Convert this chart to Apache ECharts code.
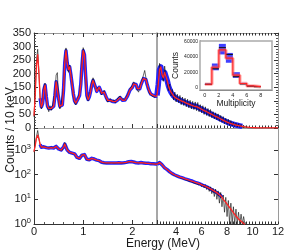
<!DOCTYPE html>
<html><head><meta charset="utf-8">
<script src="https://cdn.jsdelivr.net/npm/echarts@6/dist/echarts.min.js"></script>
<style>html,body{margin:0;padding:0;background:#fff}#c{width:287px;height:250px}</style>
</head><body><div id="c"></div>
<script>
// ---------- DATA ----------
const energyLow = [
0,0.025,0.05,0.075,0.1,0.125,0.15,0.175,0.2,0.225,0.25,0.275,0.3,0.325,0.35,0.375,0.4,0.425,0.45,0.475,
0.5,0.525,0.55,0.575,0.6,0.625,0.65,0.675,0.7,0.725,0.75,0.775,0.8,0.825,0.85,0.875,0.9,0.925,0.95,0.975,
1,1.025,1.05,1.075,1.1,1.125,1.15,1.175,1.2,1.225,1.25,1.275,1.3,1.325,1.35,1.375,1.4,1.425,1.45,1.475,
1.5,1.525,1.55,1.575,1.6,1.625,1.65,1.675,1.7,1.725,1.75,1.775,1.8,1.825,1.85,1.875,1.9,1.925,1.95,1.975,
2,2.025,2.05,2.075,2.1,2.125,2.15,2.175,2.2,2.225,2.25,2.275,2.3,2.325,2.35,2.375,2.4,2.425,2.45,2.475,
2.5];
const energyHigh = [
2.5,2.6,2.7,2.8,2.9,
3,3.1,3.2,3.3,3.4,3.5,3.6,3.7,3.8,3.9,
4,4.1,4.2,4.3,4.4,4.5,4.6,4.7,4.8,4.9,
5,5.1,5.2,5.3,5.4,5.5,5.6,5.7,5.8,5.9,
6,6.1,6.2,6.3,6.4,6.5,6.6,6.7,6.8,6.9,
7,7.1,7.2,7.3,7.4,7.5,7.6,7.7,7.8,7.9,
8,8.1,8.2,8.3,8.4,8.5,8.6,8.7,8.8,8.9,
9,9.1,9.2,9.3,9.4,9.5,9.6,9.7,9.8,9.9,
10,10.1,10.2,10.3,10.4,10.5,10.6,10.7,10.8,10.9,
11,11.1,11.2,11.3,11.4,11.5,11.6,11.7,11.8,11.9,
12];

// upper panel (linear) - model (red) and data (black)
const topModelLow = [
45,120,230,270,200,110,78,90,140,158,115,80,72,75,72,76,80,120,170,175,
110,80,78,85,140,240,285,240,215,225,195,160,125,100,92,95,110,120,160,230,
285,270,190,120,105,115,135,160,175,170,150,135,140,150,140,128,125,132,125,110,
102,98,102,100,98,100,97,98,103,108,112,108,102,100,103,110,118,125,140,145,
150,162,168,160,145,138,145,160,172,182,185,178,160,145,133,125,122,120,118,117,
118];
const topDataLow = [
40,135,250,290,210,105,70,95,150,165,110,75,60,82,65,80,78,130,195,204,
100,70,85,90,150,255,295,250,205,232,200,165,118,95,85,102,105,128,170,245,
296,275,185,112,100,122,140,168,185,172,145,140,148,155,135,122,130,138,120,105,
95,92,108,96,90,104,92,101,110,112,118,104,98,108,100,115,122,132,145,150,
158,170,176,158,140,132,150,166,180,195,212,185,158,140,125,128,118,125,112,120,
125];
const topModelHigh = [
120,160,215,225,195,
185,205,200,175,155,142,132,125,118,114,
110,108,105,103,100,98,96,94,92,90,
88,86,84,83,81,80,79,77,74,71,
69,67,64,62,60,57,55,52,50,47,
45,43,41,38,36,33,31,29,26,24,
22,20,18,16,15,13,12,11,10,9,
8,7,6,5,4,3.5,3,2.5,2,1.7,
1.4,1.2,1.0,0.8,0.7,0.6,0.5,0.5,0.4,0.4,
0.3,0.3,0.3,0.2,0.2,0.2,0.2,0.1,0.1,0.1,
0.1];
const topDataHigh = [
125,172,238,212,212,
172,228,188,192,138,162,118,142,103,132,
96,124,93,120,86,114,83,110,78,106,
74,102,70,98,68,96,64,94,60,86,
56,82,50,78,46,72,42,68,38,60,
34,56,30,52,25,46,21,42,16,36,
13,32,9,27,7,22,5,19,3,16,
2,13,1,10,0,8,0,6,0,5,
0,3,0,2,0,1,0,1,0,0,
1,0,0,0,0,0,0,0,0,0,
0];

// lower panel (log) - model (red) and data (black)
const botModelLow = [
850,1500,3000,4000,2800,1700,1300,1250,1350,1400,1250,1150,1200,1300,1250,1150,1200,1350,1400,1250,
1100,1050,1000,1050,1300,1750,1500,1000,850,800,780,750,740,700,600,500,450,460,520,620,
680,650,520,420,390,400,430,460,450,430,400,390,380,370,340,320,310,305,300,300,
300,300,298,300,302,300,298,300,305,305,300,298,300,305,310,315,325,335,340,340,
335,325,315,305,300,300,305,310,305,300,295,290,290,288,285,280,278,275,270,268,
265];
const botDataLow = [
820,1700,3500,6200,3000,1600,1250,1300,1400,1350,1300,1100,1250,1250,1300,1100,1250,1300,1450,1200,
1150,1000,1050,1000,1350,2000,1450,1050,820,830,750,780,700,720,580,520,440,480,500,650,
700,630,540,400,400,390,440,450,470,420,410,380,390,360,350,310,320,295,310,290,
305,295,300,305,295,290,305,295,310,300,305,290,305,300,315,305,330,330,345,335,
345,320,330,310,300,305,295,310,320,300,305,290,295,285,290,280,285,275,280,265,
270];
const botModelHigh = [
265,280,310,290,250,
215,190,175,160,145,130,118,110,103,97,
92,88,84,80,77,74,71,68,65,63,
60,58,56,54,51,49,47,45,43,41,
39,37,35,34,32,30,28,26.5,25,23,
21,20,18.5,17,15.5,14,12,10,8.5,7.5,
6.5,5.5,4.6,4.0,3.4,2.9,2.5,2.1,1.9,1.6,
1.45,1.3,1.15,1.05,0.95,null,null,null,null,null,
null,null,null,null,null,null,null,null,null,null,
null,null,null,null,null,null,null,null,null,null,
null];
const botDataHigh = [
270,290,320,285,255,
210,195,170,165,140,135,112,115,98,102,
88,93,80,85,72,79,66,73,60,68,
55,63,51,60,46,54,42,50,38,46,
33,42,29,39,25,35,21,32,17,28,
13,26,10,22,7,19,5,15,3,12,
2,9,1,7,1,5,1,4,1,3,
1,2.5,1,2,1,1.2,null,null,null,null,
null,null,null,null,null,null,null,null,null,null,
null,null,null,null,null,null,null,null,null,null,
null];

// inset: multiplicity distribution
const multBins = [0,1,2,3,4,5,6,7];
const multModel = [4000,26500,49500,38500,16000,5000,1800,800];
const multData = [4000,24500,52500,43500,14000,4500,1500,700];
const multBandLow = [3000,22500,43500,32500,12500,4000,1200,400];
const multBandHigh = [5000,31500,57500,45500,20000,6000,2400,1200];

// tick labels
const xTicksLow = [0,1,2];
const xTicksHigh = [4,6,8,10,12];
const multXTicks = [0,2,4,6,8];
const multYTicks = [0,20000,40000,60000];

// ---------- CHART ----------
const FONT = 'Liberation Sans';
const TXT = '#1a1a1a';
const pairs = (xs, ys) => xs.map((x, i) => [x, ys[i]]);
const band = (xs, ys, lo, hi) => xs.map((x, i) => [x, (x >= lo && x <= hi) ? ys[i] : null]);

const tick = (len) => ({show: true, inside: true, length: len, lineStyle: {color: '#333', width: 1}});
const minor = (n) => ({show: true, splitNumber: n, length: 2, lineStyle: {color: '#555', width: 1}});
const noLab = {show: false};
const noSplit = {show: false};
const gray = {show: true, onZero: false, lineStyle: {color: '#9a9a9a', width: 1}};
const dark = {show: true, onZero: false, lineStyle: {color: '#333', width: 1}};

const logFmt = (v) => {
  const e = Math.round(Math.log10(v));
  if (Math.abs(Math.pow(10, e) - v) > 1e-6 * v) return '';
  return '{b|10}{s|' + e + '}';
};
const logRich = {
  b: {fontSize: 11, fontFamily: FONT, color: TXT},
  s: {fontSize: 7.5, fontFamily: FONT, color: TXT, padding: [0, 0, 6, 0]}
};

const line = (xi, yi, data, color, width, z) => ({
  type: 'line', xAxisIndex: xi, yAxisIndex: yi, data, symbol: 'none', showSymbol: false,
  lineStyle: {color, width, join: 'round'}, z, silent: true, animation: false
});

const BLUE = '#2424ff', RED = '#ff2424', BLACK = 'rgba(15,15,15,0.8)';
const stepData = (ys) => multBins.map((b, i) => [b, ys[i]]).concat([[multBins.length, ys[ys.length - 1]]]);

const option = {
  backgroundColor: '#fff',
  animation: false,
  grid: [
    {left: 34, top: 33, width: 123, height: 95, outerBoundsMode: 'none'},
    {left: 157, top: 33, width: 121, height: 95, outerBoundsMode: 'none'},
    {left: 34, top: 128, width: 123, height: 96, outerBoundsMode: 'none'},
    {left: 157, top: 128, width: 121, height: 96, outerBoundsMode: 'none'},
    {left: 200, top: 41, width: 72, height: 49, outerBoundsMode: 'none', show: true,
     backgroundColor: '#fff', borderColor: '#aaa', borderWidth: 1.5, z: 5}
  ],
  xAxis: [
    {gridIndex: 0, type: 'value', min: 0, max: 2.5, interval: 1, position: 'bottom', axisLine: gray,
     axisTick: tick(4), minorTick: minor(5), axisLabel: noLab, splitLine: noSplit},
    {gridIndex: 1, type: 'value', min: 2.5, max: 12, interval: 0.25, position: 'bottom', axisLine: gray,
     axisTick: tick(2.5), axisLabel: noLab, splitLine: noSplit},
    {gridIndex: 2, type: 'value', min: 0, max: 2.5, interval: 1, position: 'bottom', axisLine: dark,
     axisTick: tick(4), minorTick: minor(5), splitLine: noSplit,
     axisLabel: {customValues: xTicksLow, fontSize: 11, fontFamily: FONT, color: TXT, margin: 2}},
    {gridIndex: 3, type: 'value', min: 2.5, max: 12, interval: 0.25, position: 'bottom', axisLine: dark,
     axisTick: tick(2.5), splitLine: noSplit,
     axisLabel: {customValues: xTicksHigh, fontSize: 11, fontFamily: FONT, color: TXT, margin: 2}},
    {gridIndex: 0, type: 'value', min: 0, max: 2.5, interval: 1, position: 'top', axisLine: gray,
     axisTick: tick(4), minorTick: minor(5), axisLabel: noLab, splitLine: noSplit},
    {gridIndex: 1, type: 'value', min: 2.5, max: 12, interval: 0.25, position: 'top', axisLine: gray,
     axisTick: tick(2.5), axisLabel: noLab, splitLine: noSplit},
    {gridIndex: 4, type: 'value', min: -0.7, max: 9.6, position: 'bottom', axisLine: dark,
     axisTick: {show: true, inside: true, length: 2.5, customValues: multXTicks, lineStyle: {color: '#333'}},
     splitLine: noSplit, name: 'Multiplicity', nameLocation: 'middle', nameGap: 8,
     nameTextStyle: {fontSize: 8.5, fontFamily: FONT, color: TXT},
     axisLabel: {customValues: multXTicks, fontSize: 5.5, fontFamily: FONT, color: TXT, margin: 2}}
  ],
  yAxis: [
    {gridIndex: 0, type: 'value', min: 0, max: 350, interval: 50, position: 'left', axisLine: dark,
     axisTick: tick(4), minorTick: minor(5), splitLine: noSplit,
     axisLabel: {fontSize: 11, fontFamily: FONT, color: TXT, margin: 3}},
    {gridIndex: 1, type: 'value', min: 0, max: 350, interval: 50, position: 'left',
     axisLine: {show: true, onZero: false, lineStyle: {color: '#8a8a8a', width: 1.5}},
     axisTick: {show: false}, axisLabel: noLab, splitLine: noSplit},
    {gridIndex: 1, type: 'value', min: 0, max: 350, interval: 50, position: 'right', axisLine: gray,
     axisTick: tick(4), minorTick: minor(5), axisLabel: noLab, splitLine: noSplit},
    {gridIndex: 2, type: 'log', logBase: 10, min: 1, max: 7800, position: 'left', axisLine: dark,
     axisTick: tick(4), splitLine: noSplit,
     axisLabel: {formatter: logFmt, rich: logRich, margin: 3, showMaxLabel: false}},
    {gridIndex: 3, type: 'log', logBase: 10, min: 1, max: 7800, position: 'left',
     axisLine: {show: true, onZero: false, lineStyle: {color: '#8a8a8a', width: 1.5}},
     axisTick: {show: false}, axisLabel: noLab, splitLine: noSplit},
    {gridIndex: 3, type: 'log', logBase: 10, min: 1, max: 7800, position: 'right', axisLine: gray,
     axisTick: tick(4), axisLabel: noLab, splitLine: noSplit},
    {gridIndex: 4, type: 'value', min: -3600, max: 61300, position: 'left', axisLine: dark,
     axisTick: {show: true, inside: true, length: 2.5, customValues: multYTicks, lineStyle: {color: '#333'}},
     splitLine: noSplit, name: 'Counts', nameLocation: 'middle', nameGap: 19,
     nameTextStyle: {fontSize: 8.5, fontFamily: FONT, color: TXT},
     axisLabel: {customValues: multYTicks, formatter: (v) => String(Math.round(v)),
                 fontSize: 5, fontFamily: FONT, color: TXT, margin: 2}}
  ],
  series: [
    line(0, 0, band(energyLow, topModelLow, 0.12, 99), BLUE, 3.5, 2),
    line(0, 0, pairs(energyLow, topDataLow), BLACK, 0.8, 3),
    line(0, 0, pairs(energyLow, topModelLow), RED, 1.3, 4),
    line(1, 1, band(energyHigh, topModelHigh, 0, 9.2), BLUE, 5.5, 2),
    line(1, 1, pairs(energyHigh, topDataHigh), BLACK, 0.8, 3),
    line(1, 1, pairs(energyHigh, topModelHigh), RED, 1.3, 4),
    line(2, 3, band(energyLow, botModelLow, 0.12, 99), BLUE, 3.5, 2),
    line(2, 3, pairs(energyLow, botDataLow), BLACK, 0.8, 3),
    line(2, 3, pairs(energyLow, botModelLow), RED, 1.3, 4),
    line(3, 4, band(energyHigh, botModelHigh, 0, 7.6), BLUE, 3.5, 2),
    line(3, 4, pairs(energyHigh, botDataHigh), BLACK, 0.8, 3),
    line(3, 4, pairs(energyHigh, botModelHigh), RED, 1.3, 4),
    {
      type: 'custom', xAxisIndex: 6, yAxisIndex: 6, z: 10, silent: true, animation: false,
      data: multBins.map((b, i) => [b, multBandLow[i], multBandHigh[i]]),
      encode: {x: 0, y: [1, 2]},
      renderItem: (params, api) => {
        const p0 = api.coord([api.value(0), api.value(2)]);
        const p1 = api.coord([api.value(0) + 1, api.value(1)]);
        return {type: 'rect', shape: {x: p0[0], y: p0[1], width: p1[0] - p0[0], height: p1[1] - p0[1]},
                style: {fill: '#2b2bff', opacity: 0.9}};
      }
    },
    {
      type: 'line', xAxisIndex: 6, yAxisIndex: 6, step: 'end', symbol: 'none', z: 11, silent: true,
      data: stepData(multModel),
      lineStyle: {color: 'rgba(255,110,110,0.5)', width: 3.5}
    },
    {
      type: 'custom', xAxisIndex: 6, yAxisIndex: 6, z: 12, silent: true, animation: false,
      data: multBins.map((b, i) => [b, multData[i]]),
      encode: {x: 0, y: 1},
      renderItem: (params, api) => {
        const p0 = api.coord([api.value(0), api.value(1)]);
        const p1 = api.coord([api.value(0) + 1, api.value(1)]);
        return {type: 'line', shape: {x1: p0[0], y1: p0[1], x2: p1[0], y2: p1[1]},
                style: {stroke: '#111', lineWidth: 1}};
      }
    },
    {
      type: 'line', xAxisIndex: 6, yAxisIndex: 6, step: 'end', symbol: 'none', z: 13, silent: true,
      data: stepData(multModel),
      lineStyle: {color: RED, width: 1.2}
    }
  ],
  graphic: [
    {type: 'text', x: 11, y: 130, rotation: Math.PI / 2, silent: true,
     style: {text: 'Counts / 10 keV', font: '12px "Liberation Sans"', fill: TXT, align: 'center', verticalAlign: 'middle'}},
    {type: 'text', x: 163, y: 244, silent: true,
     style: {text: 'Energy (MeV)', font: '12px "Liberation Sans"', fill: TXT, align: 'center', verticalAlign: 'middle'}}
  ]
};

const chart = echarts.init(document.getElementById('c'), null, {renderer: 'canvas'});
chart.setOption(option);
</script>
</body></html>
